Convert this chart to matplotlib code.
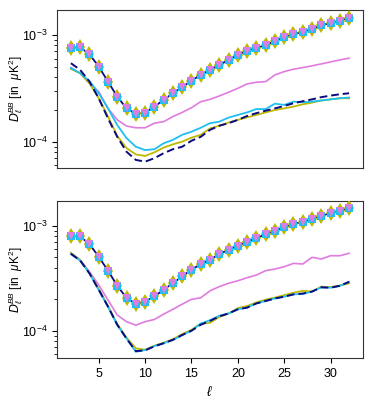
import numpy as np
import matplotlib
matplotlib.use("Agg")
import matplotlib.pyplot as plt

plt.rcParams["font.family"] = ["Liberation Sans", "DejaVu Sans"]
plt.rcParams["mathtext.fontset"] = "custom"
plt.rcParams["mathtext.rm"] = "Liberation Sans"
plt.rcParams["mathtext.it"] = "Liberation Sans:italic"
plt.rcParams["mathtext.cal"] = "DejaVu Sans:italic"
plt.rcParams["font.size"] = 9

ell = np.arange(2, 33)

# top panel
top_total = [7.6e-4, 7.66e-4, 6.59e-4, 5.05e-4, 3.65e-4, 2.64e-4, 2.05e-4, 1.82e-4, 1.87e-4, 2.13e-4,
             2.46e-4, 2.84e-4, 3.23e-4, 3.73e-4, 4.22e-4, 4.70e-4, 5.23e-4, 5.83e-4, 6.49e-4, 7.13e-4,
             7.5e-4, 8.06e-4, 8.73e-4, 9.51e-4, 1.01e-3, 1.07e-3, 1.13e-3, 1.23e-3, 1.29e-3, 1.36e-3, 1.45e-3]
top_ref = [5.43e-4, 4.7e-4, 3.65e-4, 2.55e-4, 1.65e-4, 1.11e-4, 8.05e-5, 6.75e-5, 6.5e-5, 7.0e-5,
           7.8e-5, 8.5e-5, 8.97e-5, 1.02e-4, 1.11e-4, 1.29e-4, 1.41e-4, 1.49e-4, 1.6e-4, 1.74e-4,
           1.85e-4, 1.95e-4, 2.05e-4, 2.16e-4, 2.29e-4, 2.39e-4, 2.49e-4, 2.61e-4, 2.7e-4, 2.78e-4, 2.84e-4]
top_olive = [4.8e-4, 4.37e-4, 3.52e-4, 2.55e-4, 1.72e-4, 1.13e-4, 8.7e-5, 7.6e-5, 7.35e-5, 7.95e-5,
             8.8e-5, 9.45e-5, 1.0e-4, 1.09e-4, 1.16e-4, 1.33e-4, 1.41e-4, 1.51e-4, 1.6e-4, 1.69e-4,
             1.78e-4, 1.88e-4, 1.98e-4, 2.05e-4, 2.13e-4, 2.24e-4, 2.32e-4, 2.43e-4, 2.49e-4, 2.55e-4, 2.55e-4]
top_cyan = [4.88e-4, 4.37e-4, 3.7e-4, 2.84e-4, 2.05e-4, 1.43e-4, 1.08e-4, 8.97e-5, 8.35e-5, 8.5e-5,
            9.66e-5, 1.04e-4, 1.16e-4, 1.24e-4, 1.35e-4, 1.49e-4, 1.54e-4, 1.68e-4, 1.78e-4, 1.88e-4,
            2.02e-4, 2.02e-4, 2.27e-4, 2.21e-4, 2.37e-4, 2.34e-4, 2.37e-4, 2.43e-4, 2.49e-4, 2.55e-4, 2.59e-4]
top_violet = [4.94e-4, 4.37e-4, 3.52e-4, 2.94e-4, 2.05e-4, 1.6e-4, 1.4e-4, 1.35e-4, 1.35e-4, 1.49e-4,
              1.54e-4, 1.72e-4, 1.88e-4, 2.08e-4, 2.37e-4, 2.49e-4, 2.68e-4, 2.9e-4, 3.16e-4, 3.47e-4,
              3.6e-4, 3.65e-4, 4.22e-4, 4.53e-4, 4.77e-4, 4.94e-4, 5.13e-4, 5.35e-4, 5.58e-4, 5.83e-4, 6.05e-4]

# bottom panel
bot_total = [7.91e-4, 7.9e-4, 6.68e-4, 5.07e-4, 3.73e-4, 2.68e-4, 2.05e-4, 1.80e-4, 1.89e-4, 2.12e-4,
             2.46e-4, 2.84e-4, 3.29e-4, 3.81e-4, 4.31e-4, 4.74e-4, 5.37e-4, 5.9e-4, 6.45e-4, 7.05e-4,
             7.57e-4, 8.33e-4, 8.96e-4, 9.64e-4, 1.04e-3, 1.09e-3, 1.16e-3, 1.24e-3, 1.32e-3, 1.39e-3, 1.47e-3]
bot_ref = [5.4e-4, 4.66e-4, 3.52e-4, 2.46e-4, 1.7e-4, 1.14e-4, 8.4e-5, 6.4e-5, 6.5e-5, 7.1e-5,
           7.6e-5, 8.2e-5, 9.1e-5, 1.0e-4, 1.14e-4, 1.24e-4, 1.37e-4, 1.46e-4, 1.6e-4, 1.66e-4,
           1.82e-4, 1.92e-4, 2.03e-4, 2.11e-4, 2.22e-4, 2.26e-4, 2.36e-4, 2.59e-4, 2.57e-4, 2.68e-4, 2.92e-4]
bot_olive = [5.5e-4, 4.7e-4, 3.55e-4, 2.5e-4, 1.72e-4, 1.16e-4, 8.6e-5, 6.8e-5, 6.6e-5, 7.2e-5,
             7.7e-5, 8.3e-5, 9.3e-5, 1.02e-4, 1.17e-4, 1.19e-4, 1.35e-4, 1.46e-4, 1.64e-4, 1.72e-4,
             1.86e-4, 1.98e-4, 2.07e-4, 2.18e-4, 2.3e-4, 2.4e-4, 2.36e-4, 2.63e-4, 2.6e-4, 2.7e-4, 2.83e-4]
bot_cyan = [5.37e-4, 4.66e-4, 3.52e-4, 2.44e-4, 1.69e-4, 1.13e-4, 8.45e-5, 6.3e-5, 6.55e-5, 7.15e-5,
            7.6e-5, 8.15e-5, 9.1e-5, 1.0e-4, 1.17e-4, 1.26e-4, 1.39e-4, 1.46e-4, 1.6e-4, 1.66e-4,
            1.82e-4, 1.92e-4, 2.03e-4, 2.11e-4, 2.22e-4, 2.24e-4, 2.36e-4, 2.59e-4, 2.57e-4, 2.67e-4, 2.93e-4]
bot_violet = [5.53e-4, 4.71e-4, 3.65e-4, 2.72e-4, 1.96e-4, 1.41e-4, 1.22e-4, 1.13e-4, 1.22e-4, 1.28e-4,
              1.44e-4, 1.6e-4, 1.79e-4, 1.99e-4, 2.06e-4, 2.4e-4, 2.63e-4, 2.83e-4, 2.99e-4, 3.2e-4,
              3.39e-4, 3.73e-4, 3.87e-4, 4.07e-4, 4.38e-4, 4.32e-4, 5.0e-4, 4.82e-4, 5.18e-4, 5.18e-4, 5.46e-4]

NAVY = "#0b0b80"
OLIVE = "#bdb800"
CYAN = "#1ec0f0"
VIOLET = "#e07be0"


def draw_panel(ax, total, ref, olive, cyan, violet):
    ax.plot(ell, total, color=NAVY, lw=1.3, zorder=2)
    ax.plot(ell, total, ls="none", marker="d", ms=8, mew=0, color=OLIVE, zorder=3)
    ax.plot(ell, total, ls="none", marker="s", ms=5.5, mew=0, color=CYAN, zorder=4)
    ax.plot(ell, total, ls="none", marker="v", ms=6, mew=0, color=VIOLET, zorder=5)
    ax.plot(ell, violet, color=VIOLET, lw=1.2)
    ax.plot(ell, olive, color=OLIVE, lw=1.3)
    ax.plot(ell, cyan, color=CYAN, lw=1.3)
    ax.plot(ell, ref, color=NAVY, lw=1.4, ls="--", dashes=(4, 2))
    ax.set_yscale("log")
    ax.set_xlim(0.5, 33.5)
    ax.set_ylabel(r"$\mathcal{D}_\ell^{BB}$ [in  $\mu$K$^2$]", fontsize=8.5)
    ax.yaxis.set_label_coords(-0.105, 0.5)
    for s in ax.spines.values():
        s.set_color("#333333")


fig = plt.figure(figsize=(3.74, 3.99), dpi=100)
ax1 = fig.add_axes([57 / 374, 1 - 168 / 399, 306 / 374, 158 / 399])
ax2 = fig.add_axes([57 / 374, 1 - 358 / 399, 306 / 374, 157 / 399])

draw_panel(ax1, top_total, top_ref, top_olive, top_cyan, top_violet)
ax1.set_ylim(5.67e-5, 1.71e-3)
ax1.set_xticks([5, 10, 15, 20, 25, 30])
ax1.tick_params(axis="x", bottom=False, labelbottom=False)

draw_panel(ax2, bot_total, bot_ref, bot_olive, bot_cyan, bot_violet)
ax2.set_ylim(5.5e-5, 1.72e-3)
ax2.set_xticks([5, 10, 15, 20, 25, 30])
ax2.set_xlabel(r"$\ell$", fontsize=10)

fig.savefig("out.png", dpi=100)
